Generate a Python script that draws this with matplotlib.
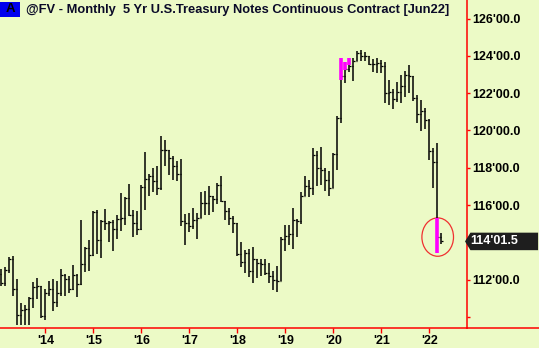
import matplotlib

matplotlib.use("Agg")
import matplotlib.pyplot as plt
import numpy as np
import pandas as pd
from matplotlib.lines import Line2D
from matplotlib.patches import Ellipse, Polygon, Rectangle

plt.rcParams["font.family"] = ["Liberation Sans", "DejaVu Sans"]

# @FV monthly bars, Feb 2013 .. Apr 2022
first_month = "2013-02"
opens = [
    112.30, 111.79, 112.51, 113.08, 111.47, 110.08, 110.36, 110.40, 111.02, 111.60, 111.65,
    110.04, 111.30, 111.47, 110.79, 111.29, 112.27, 112.01, 111.47, 112.22, 111.74, 112.86, 113.70,
    113.30, 115.63, 114.11, 115.13, 115.04, 115.08, 114.69, 115.26, 115.31, 116.37, 115.49, 115.01,
    114.69, 116.97, 117.40, 117.58, 117.28, 116.92, 118.94, 118.98, 118.55, 118.08, 117.64, 115.13,
    115.01, 114.90, 115.19, 115.31, 116.10, 116.12, 116.51, 116.33, 117.05, 116.20, 115.67, 115.30,
    115.04, 113.35, 112.94, 113.44, 112.45, 113.08, 112.90, 112.86, 112.36, 112.20, 111.97, 111.92,
    114.20, 114.33, 114.42, 115.22, 115.13, 116.50, 117.00, 116.90, 118.71, 118.00, 117.90, 117.37,
    116.92, 118.76, 120.67, 122.90, 123.30, 123.45, 123.75, 124.16, 124.02, 123.98, 123.57, 123.59,
    123.62, 123.48, 122.01, 122.05, 121.70, 122.05, 122.40, 123.00, 122.90, 121.75, 120.90, 121.03,
    120.58, 118.88, 118.30, 114.30,
]
highs = [
    112.54, 112.68, 113.22, 113.29, 112.01, 110.72, 110.61, 111.08, 111.86, 112.09, 111.68,
    111.50, 111.92, 112.04, 111.92, 112.58, 112.30, 112.18, 112.76, 112.31, 115.19, 113.76, 114.11,
    115.67, 115.72, 115.19, 115.81, 115.13, 115.19, 115.46, 116.62, 116.44, 117.15, 115.72, 115.67,
    117.05, 118.83, 117.69, 117.99, 118.08, 119.73, 119.51, 118.98, 118.65, 118.35, 118.48, 115.54,
    115.58, 115.85, 115.58, 116.69, 116.74, 117.01, 116.51, 117.19, 117.55, 116.21, 115.85, 115.40,
    115.05, 114.00, 113.61, 113.65, 113.76, 113.12, 113.08, 113.12, 112.90, 112.45, 112.72, 114.29,
    114.95, 114.95, 115.85, 115.25, 116.70, 117.58, 117.37, 119.06, 118.90, 119.10, 117.99, 117.81,
    118.80, 120.76, 123.89, 123.66, 123.89, 123.89, 124.25, 124.34, 124.19, 124.02, 123.84, 123.89,
    123.80, 123.66, 122.73, 122.21, 122.60, 123.00, 123.20, 123.50, 122.90, 121.90, 121.66, 121.20,
    120.60, 119.07, 119.33, 114.50,
]
lows = [
    111.65, 111.68, 112.36, 111.11, 109.54, 109.54, 109.54, 109.54, 110.49, 110.93, 109.95,
    109.82, 111.11, 110.31, 110.54, 111.11, 111.11, 111.29, 111.43, 111.08, 111.70, 112.40, 112.45,
    113.26, 113.35, 113.17, 114.65, 114.01, 113.52, 114.15, 114.60, 114.95, 115.40, 114.29, 114.37,
    114.65, 115.72, 116.47, 116.69, 116.56, 116.80, 118.08, 117.63, 117.33, 117.28, 114.90, 113.88,
    114.54, 114.69, 114.19, 115.30, 115.44, 115.49, 115.62, 116.03, 116.15, 115.22, 114.95, 114.51,
    113.26, 112.68, 112.36, 112.15, 111.79, 112.09, 112.18, 112.22, 111.79, 111.43, 111.33, 111.90,
    113.53, 113.83, 113.65, 114.29, 115.00, 116.47, 116.44, 116.56, 117.00, 117.10, 116.74, 116.47,
    116.90, 117.90, 120.41, 122.55, 123.14, 122.64, 123.71, 123.71, 123.71, 123.53, 123.12, 123.09,
    123.09, 121.48, 121.39, 121.14, 121.55, 121.45, 121.80, 122.00, 121.57, 120.40, 119.96, 120.10,
    118.40, 116.92, 113.44, 113.90,
]
closes = [
    111.79, 112.51, 113.08, 111.47, 110.08, 110.36, 110.40, 111.02, 111.60, 111.65, 110.04,
    111.30, 111.47, 110.79, 111.29, 112.27, 112.01, 111.47, 112.22, 111.74, 112.86, 113.70, 113.30,
    115.63, 114.11, 115.13, 115.04, 115.08, 114.69, 115.26, 115.31, 116.37, 115.49, 115.01, 114.69,
    116.97, 117.40, 117.58, 117.28, 116.92, 118.94, 118.98, 118.55, 118.08, 117.64, 115.13, 115.01,
    114.90, 115.19, 115.31, 116.10, 116.12, 116.51, 116.33, 117.05, 116.20, 115.67, 115.30, 115.04,
    113.35, 112.94, 113.44, 112.45, 113.08, 112.90, 112.86, 112.36, 112.20, 111.97, 111.92, 114.20,
    114.33, 114.42, 115.22, 115.13, 116.50, 117.00, 116.90, 118.71, 118.00, 117.90, 117.37, 116.92,
    118.76, 120.67, 122.90, 123.30, 123.45, 123.75, 124.16, 124.02, 123.98, 123.57, 123.59, 123.62,
    123.48, 122.01, 122.05, 121.70, 122.05, 122.40, 123.00, 122.90, 121.75, 120.90, 121.03, 120.58,
    118.88, 118.30, 114.30, 114.046875,
]

# paint bars (magenta segments)
paint_months = ["2020-03", "2020-04", "2020-05", "2022-03"]
paint_lows = [122.73, 123.23, 123.53, 113.44]
paint_highs = [123.89, 123.66, 123.89, 115.31]

year_labels = ["'14", "'15", "'16", "'17", "'18", "'19", "'20", "'21", "'22"]
price_ticks = [110, 112, 114, 116, 118, 120, 122, 124, 126]
# 110 sits on the time axis and 114 is under the last-price box
unlabelled = [110, 114]

BG = "#ECFAC6"
RED = "#FF0000"


def month_index(period):
    # months since Jan 2014
    return (period.year - 2014) * 12 + period.month - 1


def fmt32(p):
    whole = int(p)
    return f"{whole}'{(p - whole) * 32:04.1f}"


months = pd.period_range(first_month, periods=len(closes), freq="M")
x = np.array([month_index(m) for m in months])

fig = plt.figure(figsize=(5.39, 3.48), dpi=100, facecolor=BG)
ax = fig.add_axes([0, 20 / 348, 466.7 / 539, 328.3 / 348], facecolor=BG)
ax.set_xlim(-11.33, 105.35)
ax.set_ylim(109.40, 127.02)

# OHLC bars
tick_w = 0.38
ax.vlines(x, lows, highs, color="black", lw=1.1)
ax.hlines(opens, x - tick_w, x, color="black", lw=0.9)
ax.hlines(closes, x, x + tick_w, color="black", lw=0.9)

px = np.array([month_index(pd.Period(m, freq="M")) for m in paint_months])
ax.vlines(px, paint_lows, paint_highs, color="#FF00FF", lw=2.6)

# circle round the last two bars
ax.add_patch(Ellipse((x[-2] + 0.1, 114.28), 7.9, 2.06, fill=False,
                     edgecolor="#F03030", lw=0.9))

for side in ["top", "left"]:
    ax.spines[side].set_visible(False)
ax.spines["right"].set_color(RED)
ax.spines["bottom"].set_color(RED)
ax.spines["right"].set_linewidth(1.1)
ax.spines["bottom"].set_linewidth(1.1)
# bottom axis line runs on under the price scale
fig.add_artist(Line2D([466.7 / 539, 1], [20 / 348, 20 / 348], color=RED, lw=1.1))

ax.set_xticks(np.arange(0, 97, 12))
ax.set_xticklabels(year_labels, fontsize=9, fontweight="bold")
ax.tick_params(axis="x", color=RED, length=3.6, width=1, pad=1.5, labelcolor="black")

ax.yaxis.tick_right()
ax.set_yticks(price_ticks)
ax.set_yticklabels(["" if p in unlabelled else fmt32(p) for p in price_ticks],
                   fontsize=9, fontweight="bold")
ax.tick_params(axis="y", color=RED, length=2.2, width=1, pad=2, labelcolor="black")

# last price marker on the scale
last = closes[-1]
half = 0.47
ax.add_patch(Polygon([(0.9964, last), (1.008, last + half), (1.153, last + half),
                      (1.153, last - half), (1.008, last - half)],
                     closed=True, transform=ax.get_yaxis_transform(), clip_on=False,
                     facecolor="#1E1E1E", edgecolor="none", zorder=5))
ax.text(1.007, last, fmt32(last), transform=ax.get_yaxis_transform(), color="white",
        fontsize=9, fontweight="bold", va="center", ha="left", clip_on=False, zorder=6)

# header
fig.add_artist(Rectangle((0, 1 - 17 / 348), 20 / 539, 15 / 348, transform=fig.transFigure,
                         facecolor="#0000EE", edgecolor="none"))
fig.text(10 / 539, 1 - 9.5 / 348, "A", ha="center", va="center", fontsize=9.5,
         fontweight="bold", color="black")
fig.text(26 / 539, 1 - 10 / 348, "@FV - Monthly  5 Yr U.S.Treasury Notes Continuous Contract [Jun22]",
         ha="left", va="center", fontsize=9.3, fontweight="bold", color="#0A0A28")

fig.savefig("out.png", dpi=100, facecolor=BG)
